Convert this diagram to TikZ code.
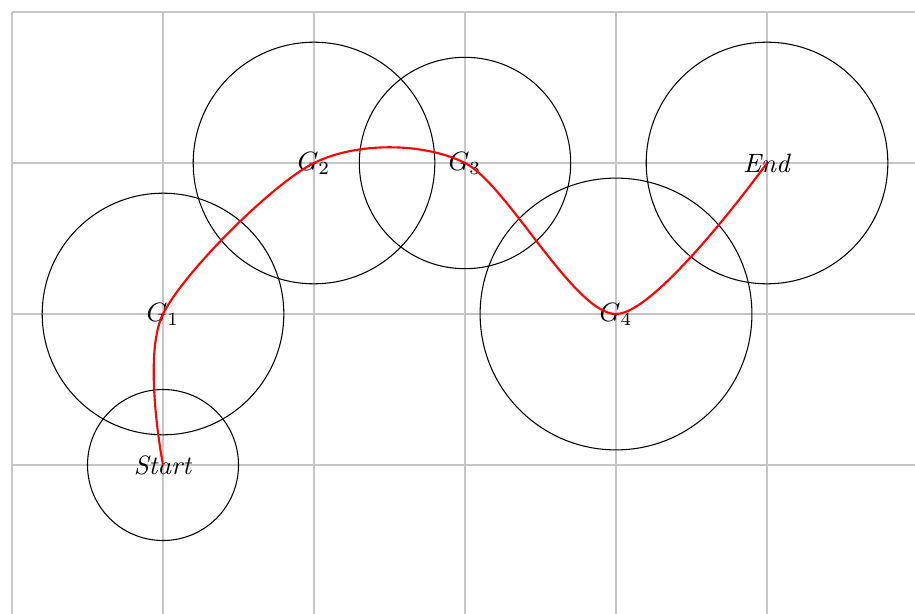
\documentclass[tikz,border=0pt]{standalone}
\usepackage{tikz}
\usepackage{xcolor}

\begin{document}
\begin{tikzpicture}[
x=2cm, y=2cm,
zone/.style={draw, black},
route/.style={red, thick}
]
\useasboundingbox (-0.0795,0.0199) rectangle (5.980,4.0795);
\draw[gray!45, thin, step=2cm] (0,0) grid (6,4);

\node (start) at (1,1) {\textit{Start}};
\node (g1) at (1,2) {$G_1$};
\node (g2) at (2,3) {$G_2$};
\node (g3) at (3,3) {$G_3$};
\node (g4) at (4,2) {$G_4$};
\node (end) at (5,3) {\textit{End}};

\draw[zone] (start.center) circle (0.5);
\draw[zone] (g1.center) circle (0.8);
\draw[zone] (g2.center) circle (0.8);
\draw[zone] (g3.center) circle (0.7);
\draw[zone] (g4.center) circle (0.9);
\draw[zone] (end.center) circle (0.8);

\draw[route] plot[smooth] coordinates {(start.center) (g1.center) (g2.center) (g3.center) (g4.center) (end.center)};
\end{tikzpicture}
\end{document}
